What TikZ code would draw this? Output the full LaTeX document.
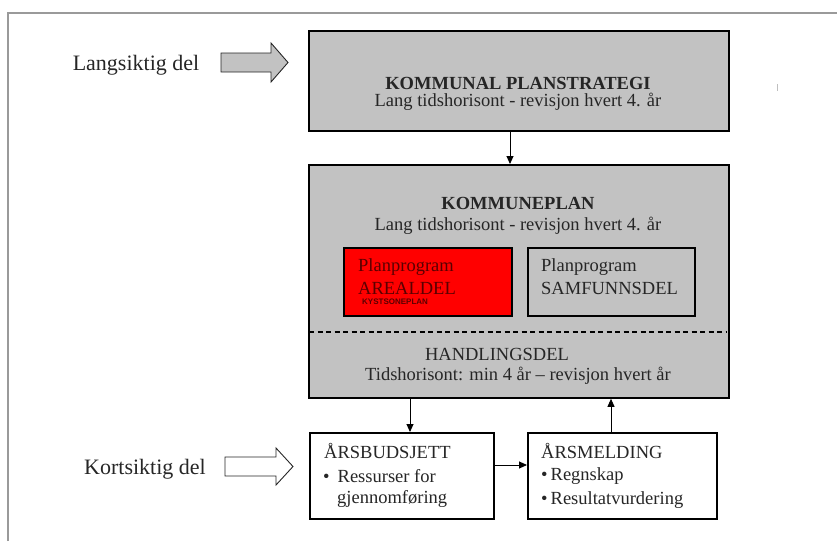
\documentclass[tikz,border=0pt]{standalone}
\usepackage{fontspec}
\setmainfont{Liberation Serif}
\newfontfamily\smallsans{Liberation Sans}
\usetikzlibrary{arrows.meta,calc}
\definecolor{boxgray}{HTML}{C2C2C2}
\definecolor{txt}{HTML}{262626}
\definecolor{framegray}{HTML}{9A9A9A}
\definecolor{redtxt}{HTML}{5A0000}
\begin{document}
\begin{tikzpicture}[x=1pt,y=-1pt,
  bigbox/.style={draw=black,line width=1.8pt,fill=boxgray,inner sep=0pt,anchor=north west},
  smallbox/.style={draw=black,line width=1.5pt,inner sep=0pt,anchor=north west},
  lbl/.style={text=txt,inner sep=0pt,font=\fontsize{18.5}{22}\selectfont},
  side/.style={text=txt,inner sep=0pt,font=\fontsize{22}{26}\selectfont},
  conn/.style={draw=black,line width=0.9pt,-{Triangle[length=8pt,width=7pt]}},
]
\useasboundingbox (0,0) rectangle (837,541);
% frame
\draw[framegray,line width=1.5pt] (8,541) -- (8,13) -- (837,13);
\draw[black!25,line width=0.8pt] (777,84) -- (777,91);

% side labels and block arrows
\node[side] (lang) at (136,65) {Langsiktig del};
\draw[fill=boxgray,draw=black!85,line width=0.9pt]
  (221,53) -- (271,53) -- (271,43) -- (288,62.5) -- (271,82) -- (271,72) -- (221,72) -- cycle;
\node[side] (kort) at (145,469) {Kortsiktig del};
\draw[fill=white,draw=black!85,line width=0.9pt]
  (225,457) -- (276,457) -- (276,448) -- (293,466.5) -- (276,485) -- (276,476) -- (225,476) -- cycle;

% top box
\node[bigbox,minimum width=420pt,minimum height=100pt] (strat) at (308,30) {};
\node[lbl,font=\fontsize{18.5}{22}\selectfont\bfseries] (stratt) at (518,83) {KOMMUNAL PLANSTRATEGI};
\node[lbl] (strats) at (518,102) {Lang tidshorisont - revisjon hvert 4. år};

% kommuneplan box
\node[bigbox,minimum width=420pt,minimum height=233pt] (kp) at (308,164) {};
\node[lbl,font=\fontsize{18.5}{22}\selectfont\bfseries] (kpt) at (518,203.5) {KOMMUNEPLAN};
\node[lbl] (kps) at (518,226) {Lang tidshorisont - revisjon hvert 4. år};

\node[smallbox,fill=red,minimum width=168pt,minimum height=68pt] (areal) at (343,247) {};
\node[lbl,text=redtxt,anchor=west] (areal1) at (358,267) {Planprogram};
\node[lbl,text=redtxt,anchor=west] (areal2) at (358,288) {AREALDEL};
\node[text=redtxt,inner sep=0pt,anchor=west,font=\smallsans\bfseries\fontsize{8}{9}\selectfont] (kyst) at (362,302) {KYSTSONEPLAN};

\node[smallbox,fill=boxgray,minimum width=167pt,minimum height=68pt] (samf) at (527,247) {};
\node[lbl,anchor=west] (samf1) at (541,267) {Planprogram};
\node[lbl,anchor=west] (samf2) at (541,288) {SAMFUNNSDEL};

\coordinate (dl) at (309,332);
\coordinate (dr) at (727,332);
\draw[black,line width=1.3pt,dash pattern=on 5pt off 3.5pt] (dl) -- (dr);

\node[lbl] (hand) at (497,354) {HANDLINGSDEL};
\node[lbl] (hands) at (518,376) {Tidshorisont: min 4 år – revisjon hvert år};

% bottom boxes
\node[smallbox,fill=white,minimum width=184pt,minimum height=86pt] (bud) at (309,432) {};
\node[lbl,anchor=west] (bud1) at (324,451) {ÅRSBUDSJETT};
\node[lbl,anchor=west] (bud2) at (323,476) {•\hspace{8pt}Ressurser for};
\node[lbl,anchor=west] (bud3) at (337,499) {gjennomføring};

\node[smallbox,fill=white,minimum width=189pt,minimum height=86pt] (mel) at (527,432) {};
\node[lbl,anchor=west] (mel1) at (541,451) {ÅRSMELDING};
\node[lbl,anchor=west] (mel2) at (541,476) {•\hspace{3pt}Regnskap};
\node[lbl,anchor=west] (mel3) at (541,500) {•\hspace{3pt}Resultatvurdering};

% connectors
\coordinate (xa) at (510,0);
\coordinate (xb) at (410,0);
\coordinate (xc) at (611,0);
\coordinate (yh) at (0,465);
\draw[conn] (strat.south -| xa) -- (kp.north -| xa);
\draw[conn] (kp.south -| xb) -- (bud.north -| xb);
\draw[conn] (mel.north -| xc) -- (kp.south -| xc);
\draw[conn] (bud.east |- yh) -- (mel.west |- yh);
\end{tikzpicture}
\end{document}
